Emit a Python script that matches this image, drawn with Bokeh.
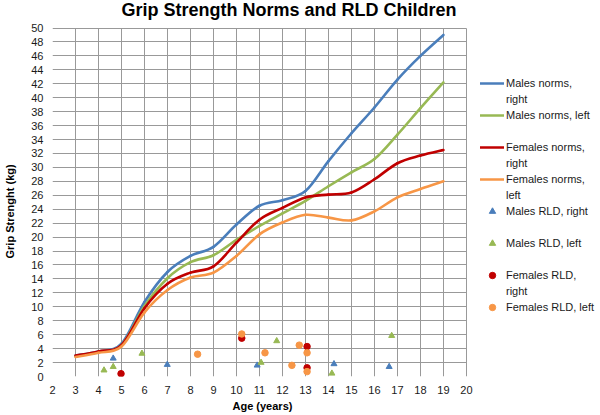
from bokeh.plotting import figure
from bokeh.models import Range1d, FixedTicker, Legend, LegendItem, Label, Title, BoxAnnotation
from bokeh.embed import file_html
from bokeh.resources import INLINE

# ---------------- data ----------------
ages = [3, 4, 5, 6, 7, 8, 9, 10, 11, 12, 13, 14, 15, 16, 17, 18, 19]
males_norms_right = [3.0, 3.6, 4.7, 10.7, 15.0, 17.3, 18.6, 21.8, 24.5, 25.3, 26.6, 30.9, 34.9, 38.6, 42.6, 46.0, 49.0]
males_norms_left = [2.9, 3.5, 4.5, 10.1, 14.1, 16.4, 17.4, 19.6, 21.6, 23.4, 25.2, 27.3, 29.3, 31.2, 34.7, 38.5, 42.2]
females_norms_right = [3.0, 3.6, 4.5, 9.8, 13.3, 14.9, 15.8, 19.2, 22.5, 24.2, 25.7, 26.1, 26.4, 28.3, 30.6, 31.7, 32.5]
females_norms_left = [2.8, 3.4, 4.3, 9.2, 12.4, 14.2, 14.9, 17.3, 20.4, 22.1, 23.2, 22.8, 22.4, 23.7, 25.7, 26.9, 28.0]

males_rld_right_age = [4.64, 6.99, 10.9, 14.24, 16.64]
males_rld_right_val = [2.6, 1.7, 1.6, 1.8, 1.4]
males_rld_left_age = [4.24, 4.64, 5.89, 11.07, 11.75, 14.15, 16.75]
males_rld_left_val = [0.9, 1.4, 3.3, 2.0, 5.1, 0.45, 5.85]
females_rld_right_age = [4.98, 10.23, 13.07, 13.07]
females_rld_right_val = [0.4, 5.5, 4.3, 1.25]
females_rld_left_age = [8.31, 10.23, 11.24, 12.41, 12.73, 13.07, 13.07]
females_rld_left_val = [3.2, 6.1, 3.4, 1.6, 4.5, 3.4, 0.7]

x_ticks = list(range(2, 21))
y_ticks = list(range(0, 51, 2))
X_MIN, X_MAX = 2, 20
Y_MIN, Y_MAX = 0, 50

TITLE = "Grip Strength Norms and RLD Children"
X_LABEL = "Age (years)"
Y_LABEL = "Grip Strenght (kg)"

BLUE = "#4a7ebb"
GREEN = "#98b954"
RED = "#c00000"
ORANGE = "#f79646"
GRID = "#999999"
FONT = "Liberation Sans"

# frame spans plot area + legend area (right) + title area (top);
# grid lines and ticks are bounded to the 2..20 x 0..50 plot region
p = figure(width=600, height=415, output_backend="svg", toolbar_location=None,
           x_range=Range1d(X_MIN, 25.83), y_range=Range1d(Y_MIN, 53.95),
           min_border_left=52, min_border_right=0, min_border_top=0, min_border_bottom=39)

p.outline_line_color = None
p.background_fill_color = "white"
p.border_fill_color = "white"

for g in (p.xgrid, p.ygrid):
    g.grid_line_color = GRID
    g.grid_line_alpha = 1
    g.grid_line_width = 1

p.xaxis.ticker = FixedTicker(ticks=x_ticks)
p.yaxis.ticker = FixedTicker(ticks=y_ticks)
p.xgrid.ticker = FixedTicker(ticks=x_ticks)
p.ygrid.ticker = FixedTicker(ticks=y_ticks)
p.ygrid.bounds = (X_MIN, X_MAX)
p.xaxis.bounds = (X_MIN, X_MAX)
p.yaxis.bounds = (Y_MIN, Y_MAX)

try:
    p.xgrid[0].cross_bounds = (Y_MIN, Y_MAX)
    p.ygrid[0].cross_bounds = (X_MIN, X_MAX)
except Exception:
    # mask the vertical grid lines above the plot region
    p.add_layout(BoxAnnotation(bottom=Y_MAX + 0.12, fill_color="white", fill_alpha=1,
                               line_color=None))

for ax in (p.xaxis[0], p.yaxis[0]):
    ax.axis_line_color = None
    ax.major_tick_line_color = None
    ax.minor_tick_line_color = None
    ax.major_tick_in = 0
    ax.major_tick_out = 0
    ax.major_label_text_font = FONT
    ax.major_label_text_font_size = "11px"
    ax.major_label_text_color = "#1a1a1a"
p.xaxis.major_label_standoff = 9
p.yaxis.major_label_standoff = 9

# y axis title (padded with no-break spaces so it sits centred on the 0..50 region)
p.yaxis.axis_label = Y_LABEL + "\u00a0" * 15
p.yaxis.axis_label_standoff = 12
p.yaxis.axis_label_text_font = FONT
p.yaxis.axis_label_text_font_size = "11px"
p.yaxis.axis_label_text_font_style = "bold"
p.yaxis.axis_label_text_color = "black"

# chart title, placed in screen units relative to the frame's bottom-left corner
p.add_layout(Label(x=69, y=367, x_units="screen", y_units="screen", text=TITLE,
                   text_font=FONT, text_font_size="18px", text_font_style="bold",
                   text_color="black", text_baseline="alphabetic", text_align="left"))

# x axis title
p.add_layout(Title(text=X_LABEL, align="left", offset=180, standoff=3,
                   text_font=FONT, text_font_size="11px", text_font_style="bold",
                   text_color="black"), "below")


# smoothed (Excel-like) line through the data points, drawn as bezier segments
def smooth(xs, ys, color):
    n = len(xs)
    x0, y0, x1, y1, cx0, cy0, cx1, cy1 = [], [], [], [], [], [], [], []
    for i in range(n - 1):
        a = max(i - 1, 0)
        d = min(i + 2, n - 1)
        x0.append(xs[i]); y0.append(ys[i])
        x1.append(xs[i + 1]); y1.append(ys[i + 1])
        cx0.append(xs[i] + (xs[i + 1] - xs[a]) / 6.0)
        cy0.append(ys[i] + (ys[i + 1] - ys[a]) / 6.0)
        cx1.append(xs[i + 1] - (xs[d] - xs[i]) / 6.0)
        cy1.append(ys[i + 1] - (ys[d] - ys[i]) / 6.0)
    return p.bezier(x0=x0, y0=y0, x1=x1, y1=y1, cx0=cx0, cy0=cy0, cx1=cx1, cy1=cy1,
                    line_color=color, line_width=2.6, line_cap="round")


r_mr = smooth(ages, males_norms_right, BLUE)
r_ml = smooth(ages, males_norms_left, GREEN)
r_fr = smooth(ages, females_norms_right, RED)
r_fl = smooth(ages, females_norms_left, ORANGE)

s_mr = p.scatter(males_rld_right_age, males_rld_right_val, marker="triangle", size=6,
                 fill_color=BLUE, line_color=BLUE)
s_ml = p.scatter(males_rld_left_age, males_rld_left_val, marker="triangle", size=6,
                 fill_color=GREEN, line_color=GREEN)
s_fr = p.scatter(females_rld_right_age, females_rld_right_val, marker="circle", size=6.5,
                 fill_color=RED, line_color=RED)
s_fl = p.scatter(females_rld_left_age, females_rld_left_val, marker="circle", size=6.5,
                 fill_color=ORANGE, line_color=ORANGE)

blank = p.line(x=[], y=[], line_alpha=0)

items = [
    LegendItem(label="Males norms,", renderers=[r_mr]),
    LegendItem(label="right", renderers=[blank]),
    LegendItem(label="Males norms, left", renderers=[r_ml]),
    LegendItem(label=" ", renderers=[blank]),
    LegendItem(label="Females norms,", renderers=[r_fr]),
    LegendItem(label="right", renderers=[blank]),
    LegendItem(label="Females norms,", renderers=[r_fl]),
    LegendItem(label="left", renderers=[blank]),
    LegendItem(label="Males RLD, right", renderers=[s_mr]),
    LegendItem(label=" ", renderers=[blank]),
    LegendItem(label="Males RLD, left", renderers=[s_ml]),
    LegendItem(label=" ", renderers=[blank]),
    LegendItem(label="Females RLD,", renderers=[s_fr]),
    LegendItem(label="right", renderers=[blank]),
    LegendItem(label="Females RLD, left", renderers=[s_fl]),
]
legend = Legend(items=items, location=(428, 61), padding=0, margin=0, spacing=0,
                glyph_width=24, glyph_height=16, label_height=16, label_standoff=2,
                label_text_font=FONT, label_text_font_size="11px", label_text_color="#1a1a1a",
                background_fill_alpha=0, border_line_color=None)
p.add_layout(legend, "center")

open("out.html", "w").write(file_html(p, INLINE))
